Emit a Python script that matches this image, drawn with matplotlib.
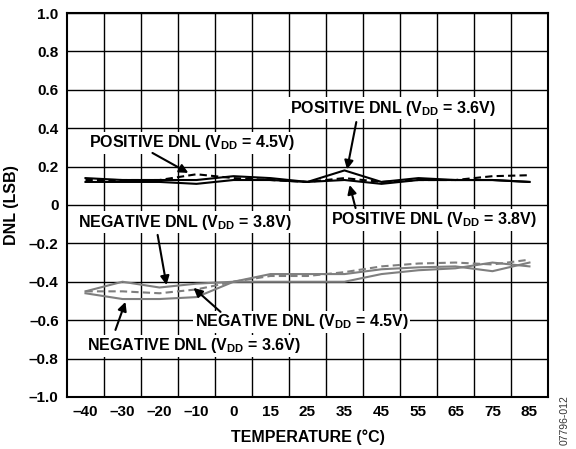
import numpy as np
import matplotlib
matplotlib.use("Agg")
import matplotlib.pyplot as plt

plt.rcParams['font.family'] = ['Liberation Sans', 'DejaVu Sans']
plt.rcParams['font.weight'] = 'bold'
plt.rcParams['mathtext.fontset'] = 'custom'
plt.rcParams['mathtext.rm'] = 'Liberation Sans:bold'
plt.rcParams['mathtext.it'] = 'Liberation Sans:bold'
plt.rcParams['mathtext.bf'] = 'Liberation Sans:bold'

# temperature categories (evenly spaced on the chart)
temps = ['–40', '–30', '–20', '–10', '0', '15', '25', '35', '45', '55', '65', '75', '85']

# DNL values
pos_45 = [0.13, 0.13, 0.13, 0.16, 0.14, 0.13, 0.12, 0.14, 0.12, 0.13, 0.13, 0.15, 0.155]
pos_36 = [0.14, 0.13, 0.13, 0.13, 0.15, 0.14, 0.12, 0.18, 0.12, 0.14, 0.13, 0.13, 0.12]
pos_38 = [0.12, 0.12, 0.12, 0.11, 0.13, 0.13, 0.12, 0.13, 0.11, 0.13, 0.13, 0.13, 0.12]
neg_36 = [-0.46, -0.49, -0.49, -0.48, -0.40, -0.40, -0.40, -0.40, -0.36, -0.34, -0.33, -0.30, -0.32]
neg_38 = [-0.45, -0.40, -0.43, -0.41, -0.40, -0.36, -0.36, -0.36, -0.335, -0.325, -0.32, -0.345, -0.30]
neg_45 = [-0.45, -0.45, -0.46, -0.44, -0.40, -0.37, -0.37, -0.35, -0.32, -0.305, -0.30, -0.31, -0.285]

yticks = [1.0, 0.8, 0.6, 0.4, 0.2, 0, -0.2, -0.4, -0.6, -0.8, -1.0]
ylabels = ['1.0', '0.8', '0.6', '0.4', '0.2', '0', '–0.2', '–0.4', '–0.6', '–0.8', '–1.0']

x = np.arange(len(temps))

fig = plt.figure(figsize=(5.76, 4.49), dpi=100)
ax = fig.add_axes([0.1163, 0.116, 0.835, 0.855])

gray = '#7f7f7f'
ax.plot(x, neg_36, color=gray, lw=1.5)
ax.plot(x, neg_38, color=gray, lw=1.5)
ax.plot(x, neg_45, color=gray, lw=1.5, dashes=(3.5, 2))
ax.plot(x, pos_36, color='black', lw=1.5)
ax.plot(x, pos_38, color='black', lw=1.5)
ax.plot(x, pos_45, color='black', lw=1.5, dashes=(3.5, 2))

ax.set_xlim(-0.5, len(temps) - 0.5)
ax.set_ylim(-1.0, 1.0)
ax.set_xticks(x)
ax.set_xticklabels(temps, fontsize=11, fontweight='bold')
ax.set_xticks(np.arange(0.5, len(temps) - 0.5, 1), minor=True)
ax.set_yticks(yticks)
ax.set_yticklabels(ylabels, fontsize=11, fontweight='bold')
ax.tick_params(axis='both', which='both', length=0)
ax.tick_params(axis='x', pad=6)
ax.tick_params(axis='y', pad=6)
ax.grid(True, which='minor', axis='x', color='black', lw=1)
ax.grid(True, which='major', axis='y', color='black', lw=1)
for s in ax.spines.values():
    s.set_linewidth(1.5)

ax.set_xlabel('TEMPERATURE (°C)', fontsize=11.5, fontweight='bold', labelpad=7)
ax.set_ylabel('DNL (LSB)', fontsize=11.5, fontweight='bold', labelpad=7)

arrow = dict(arrowstyle='-|>', color='black', lw=1.5, mutation_scale=13, shrinkA=0, shrinkB=0)
box = dict(facecolor='white', edgecolor='none', pad=1)

notes = [
    (r'POSITIVE DNL (V$_{DD}$ = 3.6V)', (8.30, 0.505), (7.32, 0.432), (7.07, 0.185)),
    (r'POSITIVE DNL (V$_{DD}$ = 4.5V)', (2.89, 0.323), (1.81, 0.271), (2.78, 0.167)),
    (r'POSITIVE DNL (V$_{DD}$ = 3.8V)', (9.43, -0.078), (7.30, -0.016), (7.14, 0.104)),
    (r'NEGATIVE DNL (V$_{DD}$ = 3.8V)', (2.70, -0.089), (1.95, -0.156), (2.19, -0.417)),
    (r'NEGATIVE DNL (V$_{DD}$ = 4.5V)', (5.84, -0.609), (3.65, -0.557), (2.92, -0.432)),
    (r'NEGATIVE DNL (V$_{DD}$ = 3.6V)', (2.92, -0.734), (0.81, -0.651), (1.08, -0.505)),
]
for txt, tpos, tail, tip in notes:
    ax.text(tpos[0], tpos[1], txt, fontsize=11.5, fontweight='bold', ha='center', va='center',
            bbox=box, zorder=5)
    ax.annotate('', xy=tip, xytext=tail, arrowprops=arrow, zorder=6)

fig.text(0.981, 0.065, '07796-012', rotation=90, fontsize=7.5, fontweight='normal',
         color='#333333', ha='center', va='center')

fig.savefig('out.png', dpi=100)
